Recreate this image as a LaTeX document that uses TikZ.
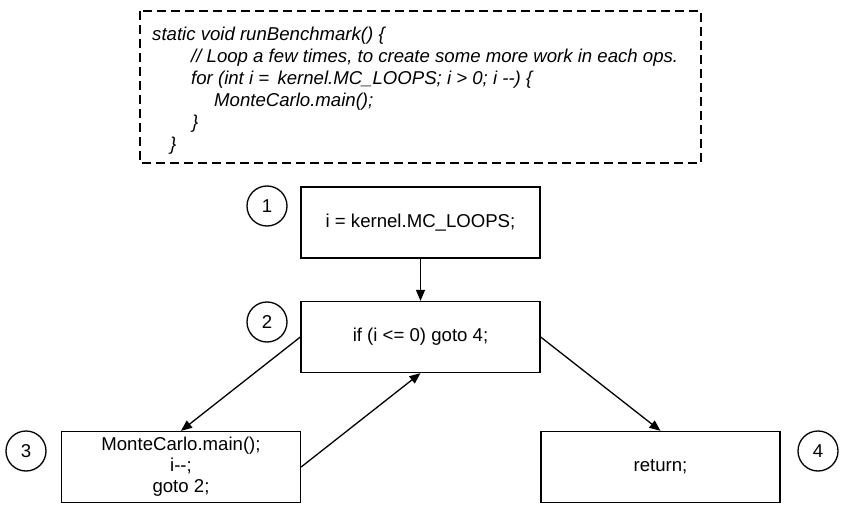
\documentclass[tikz,border=0pt]{standalone}
\usepackage{fontspec}
\setmainfont{Liberation Sans}
\usetikzlibrary{arrows.meta}

\begin{document}
\begin{tikzpicture}[x=1pt, y=-1pt,
    font=\fontsize{18.6}{21}\selectfont,
    stmt/.style={draw, line width=1.3pt, minimum width=239pt, minimum height=71pt, inner sep=0pt, align=center},
    num/.style={draw, circle, line width=1.3pt, minimum size=40pt, inner sep=0pt},
    code/.style={anchor=base west, inner sep=0pt, font=\fontsize{18.6}{21}\selectfont\itshape},
    flow/.style={line width=1.3pt, -{Triangle[length=11pt, width=9pt]}}]

    % Fix the size of the page
    \useasboundingbox (0,0) rectangle (846,513);

    % Dashed frame around the source code
    \draw[line width=1.3pt, dash pattern=on 9pt off 5pt] (140,11) rectangle (701,163);

    % The source code, one node per line
    \node[code] (c1) at (152,41) {static void runBenchmark() \{};
    \node[code] (c2) at (191,63) {// Loop a few times, to create some more work in each ops.};
    \node[code] (c3) at (191,85) {for (int i = \,kernel.MC\_LOOPS; i > 0; i {-}{-}) \{};
    \node[code] (c4) at (214,107) {MonteCarlo.main();};
    \node[code] (c5) at (192,129) {\}};
    \node[code] (c6) at (170,151) {\}};

    % The four basic blocks
    \node[stmt] (b1) at (420.5,222.5) {i = kernel.MC\_LOOPS;};
    \node[stmt] (b2) at (420.5,337) {if (i <= 0) goto 4;};
    \node[stmt] (b3) at (181,467) {MonteCarlo.main();\\i{-}{-};\\goto 2;};
    \node[stmt] (b4) at (660.5,467) {return;};

    % Numbers of the blocks
    \node[num] (n1) at (267,206) {1};
    \node[num] (n2) at (267,322) {2};
    \node[num] (n3) at (26,451) {3};
    \node[num] (n4) at (818,451) {4};

    % Control flow between the blocks
    \draw[flow] (b1) -- (b2);
    \draw[flow] (b2.west) -- (b3.north);
    \draw[flow] (b3.east) -- (b2.south);
    \draw[flow] (b2.east) -- (b4.north);

\end{tikzpicture}
\end{document}
